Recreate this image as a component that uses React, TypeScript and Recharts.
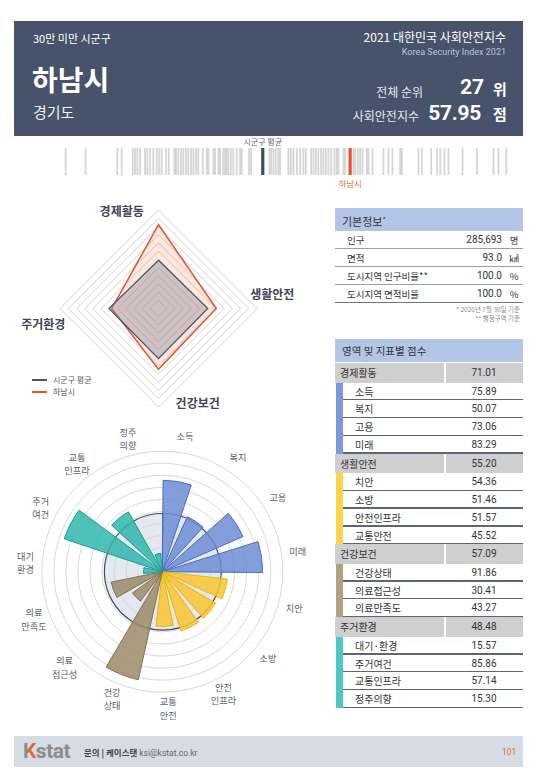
import React from "react";
import {
  ScatterChart,
  Scatter,
  XAxis,
  YAxis,
  RadarChart,
  Radar,
  PolarGrid,
  PolarAngleAxis,
  PolarRadiusAxis,
  RadialBarChart,
  RadialBar,
  Cell,
} from "recharts";

const KR = '"Noto Sans CJK KR", "Noto Sans", sans-serif';
const NUM = 'Roboto, "Noto Sans CJK KR", sans-serif';

// 시군구 전체 사회안전지수 (barcode strip)
const stripScores = [
  32.06, 33.88, 36.76, 37.16, 38.16, 38.37, 38.58, 38.83, 39.28, 39.49, 39.74, 40.04, 40.35,
  40.58, 40.8, 41.19, 41.44, 41.95, 42.1, 42.31, 42.56, 42.77, 43.01, 43.22, 43.47, 43.68,
  43.93, 44.13, 44.54, 44.9, 45.05, 45.5, 45.66, 45.96, 46.11, 46.41, 46.57, 46.72, 46.87,
  47.09, 47.32, 47.63, 47.93, 48.09, 48.75, 48.93, 50.6, 50.76, 50.97, 51.18, 51.42, 51.58,
  52.33, 52.55, 52.79, 53.1, 53.4, 53.7, 53.92, 54.4, 54.61, 54.83, 55.06, 55.31, 55.52,
  55.74, 55.97, 56.22, 56.52, 56.74, 56.89, 57.34, 57.5, 58.25, 58.41, 58.65, 58.86, 59.07,
  59.47, 59.62, 59.98, 60.98, 61.44, 61.8, 62.5, 62.66, 64.17, 64.48, 65.33, 65.85, 66.15,
  66.54, 66.9, 68.18, 69.49, 71.0, 71.46, 72.16,
];
const stripAvg = 50.0;
const hanamTotal = 57.95;

// 영역별 점수
const domainNames = ["경제활동", "생활안전", "건강보건", "주거환경"];
const hanamDomain = [71.01, 55.2, 57.09, 48.48];
const avgDomain = [49.4, 50.0, 50.6, 50.2];

// 지표별 점수
const indicatorNames = [
  "소득", "복지", "고용", "미래",
  "치안", "소방", "안전인프라", "교통안전",
  "건강상태", "의료접근성", "의료만족도",
  "대기·환경", "주거여건", "교통인프라", "정주의향",
];
const roseLabels = [
  "소득", "복지", "고용", "미래",
  "치안", "소방", "안전\n인프라", "교통\n안전",
  "건강\n상태", "의료\n접근성", "의료\n만족도",
  "대기\n환경", "주거\n여건", "교통\n인프라", "정주\n의향",
];
const indicatorScores = [
  75.89, 50.07, 73.06, 83.29,
  54.36, 51.46, 51.57, 45.52,
  91.86, 30.41, 43.27,
  15.57, 85.86, 57.14, 15.3,
];
const indicatorGroup = [0, 0, 0, 0, 1, 1, 1, 1, 2, 2, 2, 3, 3, 3, 3];
const indicatorAvg = 48.5;

// 기본정보
const basicLabels = ["인구", "면적", "도시지역 인구비율**", "도시지역 면적비율"];
const basicValues = ["285,693", "93.0", "100.0", "100.0"];
const basicUnits = ["명", "㎢", "%", "%"];

const groupFill = ["#6d8dd5", "#f9c630", "#9c8a69", "#2fb6ad"];
const groupStroke = ["#4a6cc4", "#f2b400", "#857352", "#1a9f96"];
const groupBar = ["#7b9ad9", "#fdd24c", "#b2a17f", "#4fc6bf"];

const RADAR_CX = 158.5;
const RADAR_CY = 118.5;
const ROSE_CX = 162.3;
const ROSE_CY = 151.7;

const abs = (left: number, top: number, extra: React.CSSProperties = {}): React.CSSProperties => ({
  position: "absolute",
  left,
  top,
  whiteSpace: "nowrap",
  ...extra,
});

function StripLine(p: any) {
  return <rect x={p.cx - 0.9} y={p.cy - 13.5} width={1.8} height={27} fill="#a3a3a3" fillOpacity={0.45} />;
}

function AvgLine(p: any) {
  return (
    <g>
      <rect x={p.cx - 1.6} y={p.cy - 13.5} width={3.2} height={27} fill="#3d4a63" />
      <text x={p.cx} y={p.cy - 17} textAnchor="middle" fontSize={8} fill="#5f6674" fontFamily={KR}>
        시군구 평균
      </text>
    </g>
  );
}

function HanamLine(p: any) {
  return (
    <g>
      <rect x={p.cx - 1.6} y={p.cy - 13.5} width={3.2} height={27} fill="#e8542a" />
      <text x={p.cx} y={p.cy + 25} textAnchor="middle" fontSize={8.5} fill="#ec6a3f" fontFamily={KR}>
        하남시
      </text>
    </g>
  );
}

const radarShift: Record<string, [number, number]> = {
  경제활동: [-36.8, 9.7],
  생활안전: [7.3, -13.5],
  건강보건: [39.2, -11.7],
  주거환경: [-8.7, 16.5],
};

function RadarTick(props: any) {
  const { x, y, payload } = props;
  const [dx, dy] = radarShift[payload.value] || [0, 0];
  return (
    <text
      x={x + dx}
      y={y + dy + 4.3}
      textAnchor="middle"
      fontSize={12}
      fontWeight={700}
      fill="#3d4557"
      fontFamily={KR}
    >
      {payload.value}
    </text>
  );
}

function RoseTick(props: any) {
  const { x, y, payload } = props;
  const i = indicatorNames.indexOf(payload.value);
  const ux = x - ROSE_CX;
  const uy = y - ROSE_CY;
  const d = Math.hypot(ux, uy) || 1;
  const r = 137;
  const px = ROSE_CX + (ux / d) * r;
  const py = ROSE_CY + (uy / d) * r;
  const lines = (roseLabels[i] || payload.value).split("\n");
  const lh = 13.4;
  const y0 = py - ((lines.length - 1) * lh) / 2 + 3.3;
  return (
    <g>
      {lines.map((l: string, k: number) => (
        <text key={k} x={px} y={y0 + k * lh} textAnchor="middle" fontSize={9.2} fill="#596171" fontFamily={KR}>
          {l}
        </text>
      ))}
    </g>
  );
}

function Header() {
  return (
    <>
      <div style={abs(14, 21, { width: 509, height: 115, background: "#46536a" })} />
      <div style={abs(33, 33, { fontFamily: KR, fontSize: 11, lineHeight: "11px", color: "#fff" })}>30만 미만 시군구</div>
      <div style={abs(32, 65, { fontFamily: KR, fontSize: 28, lineHeight: "28px", fontWeight: 700, color: "#fff" })}>하남시</div>
      <div style={abs(33, 104, { fontFamily: KR, fontSize: 15, lineHeight: "15px", color: "#eef1f6" })}>경기도</div>
      <div style={abs(0, 31, { right: 34, left: "auto", fontFamily: KR, fontSize: 12, lineHeight: "12px", color: "#fff" })}>
        2021 대한민국 사회안전지수
      </div>
      <div style={abs(0, 47.5, { right: 34, left: "auto", fontFamily: NUM, fontSize: 9, lineHeight: "9px", color: "#b9c3d6" })}>
        Korea Security Index 2021
      </div>
      <div style={abs(0, 86, { right: 117, left: "auto", fontFamily: KR, fontSize: 12, lineHeight: "12px", color: "#e4e8f0" })}>
        전체 순위
      </div>
      <div style={abs(0, 77, { right: 56, left: "auto", fontFamily: NUM, fontSize: 21, lineHeight: "21px", fontWeight: 700, color: "#fff" })}>
        27
      </div>
      <div style={abs(493, 80.5, { fontFamily: KR, fontSize: 15, lineHeight: "15px", fontWeight: 700, color: "#fff" })}>위</div>
      <div style={abs(0, 110, { right: 121, left: "auto", fontFamily: KR, fontSize: 12, lineHeight: "12px", color: "#e4e8f0" })}>
        사회안전지수
      </div>
      <div style={abs(0, 103, { right: 59, left: "auto", fontFamily: NUM, fontSize: 21, lineHeight: "21px", fontWeight: 700, color: "#fff", letterSpacing: -0.3 })}>
        57.95
      </div>
      <div style={abs(493, 106, { fontFamily: KR, fontSize: 15, lineHeight: "15px", fontWeight: 700, color: "#fff" })}>점</div>
    </>
  );
}

function BasicTable() {
  const rowH = 18;
  return (
    <div style={abs(335, 208, { width: 188 })}>
      <div style={{ height: 23, background: "#b4c6e7", fontFamily: KR, fontSize: 11, lineHeight: "23px", paddingLeft: 7, color: "#333" }}>
        기본정보<sup style={{ fontSize: 7, verticalAlign: 4 }}>*</sup>
      </div>
      {basicLabels.map((l, i) => (
        <div
          key={l}
          style={{
            position: "relative",
            height: rowH,
            borderBottom: i === basicLabels.length - 1 ? "1.8px solid #6f7584" : "1px solid #9a9ea8",
            boxSizing: "border-box",
            fontSize: 9.5,
            lineHeight: `${rowH}px`,
            color: "#333",
          }}
        >
          <span style={{ position: "absolute", left: 12, fontFamily: KR }}>{l}</span>
          <span style={{ position: "absolute", right: 21, fontFamily: NUM, fontSize: 10 }}>{basicValues[i]}</span>
          <span style={{ position: "absolute", right: 3, width: 12, textAlign: "center", fontFamily: KR }}>{basicUnits[i]}</span>
        </div>
      ))}
      <div style={{ textAlign: "right", fontFamily: KR, fontSize: 6.5, lineHeight: "9px", color: "#8a8a8a", marginTop: 2, paddingRight: 3 }}>
        * 2020년 7월 30일 기준
        <br />** 행정구역 기준
      </div>
    </div>
  );
}

function ScoreTable() {
  const catH = 19.5;
  const subH = 17.8;
  const rows: React.ReactNode[] = [];
  domainNames.forEach((d, g) => {
    rows.push(
      <div key={d} style={{ position: "relative", height: catH, background: "#d0cfcf", fontSize: 10, lineHeight: `${catH}px`, color: "#333" }}>
        <span style={{ position: "absolute", left: 5, fontFamily: KR }}>{d}</span>
        <div style={{ position: "absolute", left: 109, top: 0, width: 1.5, height: catH, background: "#fff" }} />
        <span style={{ position: "absolute", left: 110, width: 78, textAlign: "center", fontFamily: NUM }}>
          {hanamDomain[g].toFixed(2)}
        </span>
      </div>
    );
    indicatorNames.forEach((n, i) => {
      if (indicatorGroup[i] !== g) return;
      rows.push(
        <div key={n} style={{ position: "relative", height: subH, fontSize: 10, lineHeight: `${subH}px`, color: "#333" }}>
          <div style={{ position: "absolute", left: 1, top: 0, width: 7, height: subH, background: groupBar[g] }} />
          <div style={{ position: "absolute", left: 8, right: 0, bottom: 0, height: 1.3, background: "#5d6679" }} />
          <span style={{ position: "absolute", left: 20, fontFamily: KR }}>{n}</span>
          <span style={{ position: "absolute", left: 110, width: 78, textAlign: "center", fontFamily: NUM }}>
            {indicatorScores[i].toFixed(2)}
          </span>
        </div>
      );
    });
  });
  return (
    <div style={abs(335, 339, { width: 188 })}>
      <div style={{ height: 23, background: "#b4c6e7", fontFamily: KR, fontSize: 10.5, lineHeight: "23px", paddingLeft: 7, color: "#333", marginBottom: 1 }}>
        영역 및 지표별 점수
      </div>
      {rows}
    </div>
  );
}

function Footer() {
  return (
    <>
      <div style={abs(14, 736, { width: 509, height: 31, background: "#d6dce4" })} />
      <div style={abs(23, 740, { fontFamily: NUM, fontSize: 21, lineHeight: "22px", fontWeight: 700, letterSpacing: -0.5 })}>
        <span
          style={{
            background: "linear-gradient(90deg, #8c8c8c 40%, #e8643c 40%)",
            WebkitBackgroundClip: "text",
            backgroundClip: "text",
            color: "transparent",
          }}
        >
          K
        </span>
        <span style={{ color: "#8c8c8c" }}>stat</span>
      </div>
      <div style={abs(84, 747, { fontFamily: KR, fontSize: 8.5, lineHeight: "10px", color: "#444" })}>
        <b>문의 | 케이스탯</b> <span style={{ fontFamily: NUM, color: "#666" }}>ksi@kstat.co.kr</span>
      </div>
      <div style={abs(502, 747, { fontFamily: NUM, fontSize: 8.5, lineHeight: "10px", color: "#e8643c" })}>101</div>
    </>
  );
}

export default function App() {
  const stripData = stripScores.map((s) => ({ x: s, y: 1 }));
  const radarData = domainNames.map((n, i) => ({ name: n, hanam: hanamDomain[i], avg: avgDomain[i] }));
  const roseData = indicatorNames.map((n, i) => ({ name: n, value: indicatorScores[i] }));
  const discData = [{ name: "시군구 평균", value: indicatorAvg }];

  // the rose is drawn as three stacked polar charts that share center and radius scale:
  // the average disc, the labels, and the rings + bars (bars' bands start one band later in recharts)
  const roseCommon = {
    width: 330,
    height: 310,
    cx: ROSE_CX,
    cy: ROSE_CY,
    innerRadius: 0,
    outerRadius: 120.5,
    layout: "centric" as const,
  };

  return (
    <div style={{ position: "absolute", left: 0, top: 0, width: 540, height: 780, background: "#fff", overflow: "hidden" }}>
      <Header />

      <div style={abs(0, 136)}>
        <ScatterChart width={540} height={55} margin={{ top: 12, right: 30, bottom: 16, left: 65 }}>
          <XAxis type="number" dataKey="x" domain={[32, 72.5]} hide />
          <YAxis type="number" dataKey="y" domain={[0, 2]} hide />
          <Scatter data={stripData} shape={StripLine} isAnimationActive={false} />
          <Scatter data={[{ x: stripAvg, y: 1 }]} shape={AvgLine} isAnimationActive={false} />
          <Scatter data={[{ x: hanamTotal, y: 1 }]} shape={HanamLine} isAnimationActive={false} />
        </ScatterChart>
      </div>

      <div style={abs(0, 190)}>
        <RadarChart
          width={330}
          height={235}
          data={radarData}
          cx={RADAR_CX}
          cy={RADAR_CY}
          outerRadius={98.5}
          startAngle={90}
          endAngle={-270}
        >
          <PolarGrid gridType="polygon" radialLines={false} stroke="#d2d2d2" />
          <PolarAngleAxis dataKey="name" tick={RadarTick} tickLine={false} axisLine={false} />
          <PolarRadiusAxis type="number" domain={[20, 80]} tickCount={13} tick={false} axisLine={false} />
          <Radar dataKey="hanam" stroke="#e8542a" strokeWidth={1.5} fill="#f08050" fillOpacity={0.18} isAnimationActive={false} />
          <Radar dataKey="avg" stroke="#4b5468" strokeWidth={1.2} fill="#8e8696" fillOpacity={0.4} isAnimationActive={false} />
        </RadarChart>
      </div>

      <div style={abs(32, 374, { fontFamily: KR, fontSize: 8, lineHeight: "10px", color: "#555" })}>
        <div style={{ display: "flex", alignItems: "center", height: 12 }}>
          <span style={{ display: "inline-block", width: 15, height: 1.5, background: "#4b5468", marginRight: 6 }} />
          시군구 평균
        </div>
        <div style={{ display: "flex", alignItems: "center", height: 12 }}>
          <span style={{ display: "inline-block", width: 15, height: 2.2, background: "#e8542a", marginRight: 6 }} />
          하남시
        </div>
      </div>

      <div style={abs(0, 420)}>
        <RadialBarChart {...roseCommon} data={discData} startAngle={89.5} endAngle={-270.5} barCategoryGap={0}>
          <PolarAngleAxis type="category" dataKey="name" tick={false} tickLine={false} axisLine={false} />
          <PolarRadiusAxis type="number" domain={[0, 100]} tick={false} axisLine={false} />
          <RadialBar dataKey="value" fill="#e4e8f0" stroke="#3e4860" strokeWidth={1.2} isAnimationActive={false} />
        </RadialBarChart>
      </div>

      <div style={abs(0, 420)}>
        <RadialBarChart {...roseCommon} data={roseData} startAngle={80.5} endAngle={-279.5}>
          <PolarAngleAxis type="category" dataKey="name" tick={RoseTick} tickLine={false} axisLine={false} />
          <PolarRadiusAxis type="number" domain={[0, 100]} tick={false} axisLine={false} />
        </RadialBarChart>
      </div>

      <div style={abs(0, 420)}>
        <RadialBarChart {...roseCommon} data={roseData} startAngle={68.5} endAngle={-291.5} barCategoryGap="12.5%">
          <PolarGrid gridType="circle" radialLines={false} stroke="#d9d9d9" />
          <PolarAngleAxis type="category" dataKey="name" tick={false} tickLine={false} axisLine={false} />
          <PolarRadiusAxis type="number" domain={[0, 100]} tickCount={11} tick={false} axisLine={false} />
          <RadialBar dataKey="value" isAnimationActive={false}>
            {roseData.map((d, i) => (
              <Cell
                key={d.name}
                fill={groupFill[indicatorGroup[i]]}
                fillOpacity={0.85}
                stroke={groupStroke[indicatorGroup[i]]}
                strokeWidth={1}
              />
            ))}
          </RadialBar>
        </RadialBarChart>
      </div>

      <BasicTable />
      <ScoreTable />
      <Footer />
    </div>
  );
}
